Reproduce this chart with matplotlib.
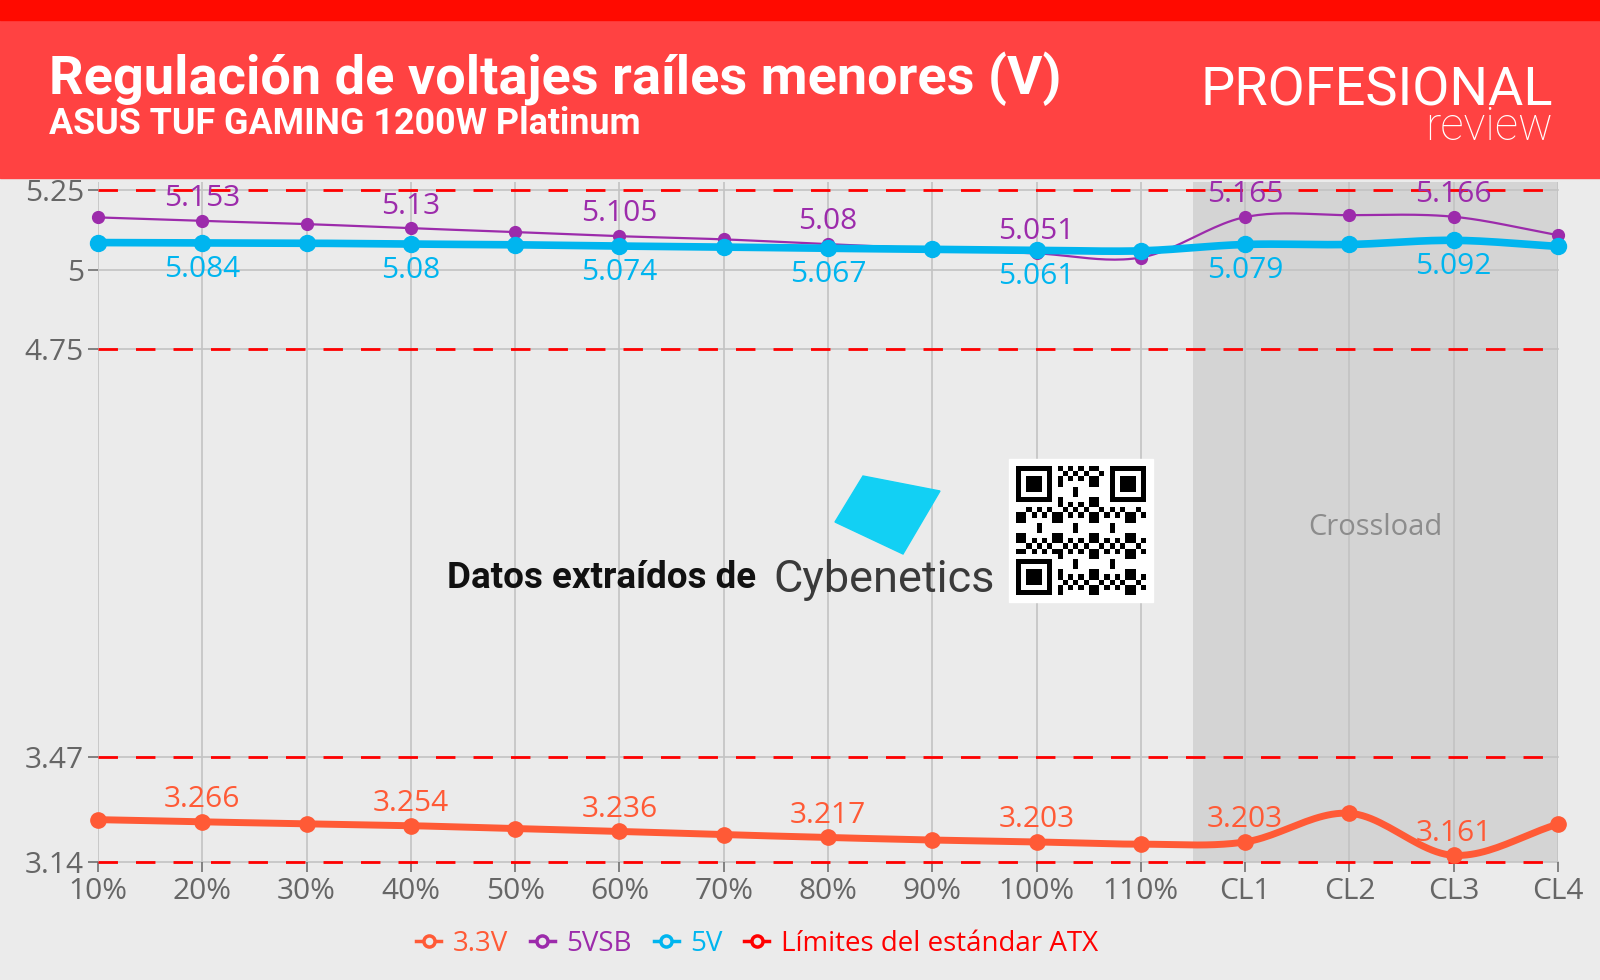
import numpy as np
import matplotlib.pyplot as plt
from matplotlib.patches import Rectangle, Polygon
from matplotlib.lines import Line2D

plt.rcParams['font.family'] = ['Open Sans', 'DejaVu Sans']

# datos
categorias = ['10%', '20%', '30%', '40%', '50%', '60%', '70%', '80%', '90%',
              '100%', '110%', 'CL1', 'CL2', 'CL3', 'CL4']
v_33 = [3.273, 3.266, 3.260, 3.254, 3.245, 3.236, 3.226, 3.217, 3.209,
        3.203, 3.196, 3.203, 3.293, 3.161, 3.259]
v_5vsb = [5.164, 5.153, 5.143, 5.13, 5.118, 5.105, 5.095, 5.08, 5.066,
          5.051, 5.038, 5.165, 5.171, 5.166, 5.108]
v_5 = [5.085, 5.084, 5.083, 5.08, 5.078, 5.074, 5.071, 5.067, 5.064,
       5.061, 5.059, 5.079, 5.079, 5.092, 5.073]
yticks = [3.14, 3.47, 4.75, 5, 5.25]
ytick_labels = ['3.14', '3.47', '4.75', '5', '5.25']
limites_atx = [5.25, 4.75, 3.47, 3.14]
etiquetas_idx = [1, 3, 5, 7, 9, 11, 13]

c33 = '#ff5a36'
c5sb = '#9c2bab'
c5 = '#00b5ef'
crojo = '#ff0000'
fondo = '#ebebeb'

W, H = 1600, 980


def fx(x):
    return x / W


def fy(y):
    return 1 - y / H


def suavizar(xs, ys, n=24):
    # curva Catmull-Rom para dibujar la linea suavizada
    xs = np.asarray(xs, float)
    ys = np.asarray(ys, float)
    px = np.concatenate([[2 * xs[0] - xs[1]], xs, [2 * xs[-1] - xs[-2]]])
    py = np.concatenate([[2 * ys[0] - ys[1]], ys, [2 * ys[-1] - ys[-2]]])
    ox, oy = [], []
    t = np.linspace(0, 1, n, endpoint=False)
    for i in range(1, len(px) - 2):
        for arr, out in ((px, ox), (py, oy)):
            p0, p1, p2, p3 = arr[i - 1], arr[i], arr[i + 1], arr[i + 2]
            out.extend(0.5 * ((2 * p1) + (-p0 + p2) * t
                              + (2 * p0 - 5 * p1 + 4 * p2 - p3) * t ** 2
                              + (-p0 + 3 * p1 - 3 * p2 + p3) * t ** 3))
    ox.append(xs[-1])
    oy.append(ys[-1])
    return np.array(ox), np.array(oy)


fig = plt.figure(figsize=(16, 9.8), dpi=100, facecolor=fondo)

# cabecera
fig.add_artist(Rectangle((0, fy(178)), 1, 178 / H, transform=fig.transFigure,
                         color='#ff4242', zorder=0))
fig.add_artist(Rectangle((0, fy(20)), 1, 20 / H, transform=fig.transFigure,
                         color='#ff0a00', zorder=0))

ax = fig.add_axes([fx(98), fy(862), (1558 - 98) / W, (862 - 182) / H])
ax.set_facecolor(fondo)
x = np.arange(len(categorias))
ax.set_xlim(0, len(categorias) - 1)
ax.set_ylim(3.14, 5.25 + 8 / 318)

ax.axvspan(10.5, 14, color='#d4d4d4', zorder=0, lw=0)
for xi in x:
    ax.axvline(xi, color='#c3c3c3', lw=1.2, zorder=1)
for yv in yticks:
    ax.axhline(yv, color='#c3c3c3', lw=1.2, zorder=1, clip_on=False)
for yv in limites_atx:
    ax.axhline(yv, color=crojo, lw=2, dashes=(7, 6.5), zorder=2, clip_on=False)

ax.text(12.25, 4.19, 'Crossload', ha='center', va='center', fontsize=21, color='#8c8c8c')

series = [
    (v_33, c33, 5, 11, 1),
    (v_5vsb, c5sb, 1.6, 8.5, 1),
    (v_5, c5, 5.5, 11.5, -1),
]
for vals, col, lw, ms, lado in series:
    sx, sy = suavizar(x, vals)
    ax.plot(sx, sy, color=col, lw=lw, zorder=4, clip_on=False, solid_capstyle='round')
    ax.plot(x, vals, 'o', color=col, ms=ms, zorder=5, clip_on=False)
    desp = 16 if lado > 0 else -19
    for i in etiquetas_idx:
        ax.annotate(f'{vals[i]:g}', (x[i], vals[i]), xytext=(0, desp),
                    textcoords='offset points', ha='center', va='center',
                    fontsize=21.5, color=col, zorder=6)

ax.set_xticks(x)
ax.set_xticklabels(categorias)
ax.set_yticks(yticks)
ax.set_yticklabels(ytick_labels)
ax.tick_params(axis='both', length=7, width=1.2, color='#707070',
               labelcolor='#666666', labelsize=21.5)
ax.tick_params(axis='x', pad=4)
ax.tick_params(axis='y', pad=3)
for s in ax.spines.values():
    s.set_visible(False)

# marca de datos: texto, logo y QR
fig.text(fx(447), fy(588), 'Datos extraídos de', fontsize=26.5, weight='bold',
         color='#111111', va='baseline', family=['Roboto', 'DejaVu Sans'])
fig.text(fx(773), fy(592), 'Cybenetics', fontsize=32.5, color='#3a3a3a',
         va='baseline', family=['Roboto', 'DejaVu Sans'])
forma = [(863, 476), (940, 491), (903, 554), (835, 522)]
fig.add_artist(Polygon([(fx(a), fy(b)) for a, b in forma], closed=True,
                       transform=fig.transFigure, color='#12d0f4', zorder=3))

fig.add_artist(Rectangle((fx(1009), fy(602)), 144 / W, 143 / H,
                         transform=fig.transFigure, color='white', zorder=3))
n = 25
qr = np.zeros((n, n))
ii, jj = np.mgrid[0:n, 0:n]
qr[((ii * ii * 3 + jj * jj * 5 + ii * jj * 7 + ii + 2 * jj) % 7) < 3] = 1
for r0, c0 in ((0, 0), (0, n - 7), (n - 7, 0)):
    qr[max(r0 - 1, 0):r0 + 8, max(c0 - 1, 0):c0 + 8] = 0
    qr[r0:r0 + 7, c0:c0 + 7] = 1
    qr[r0 + 1:r0 + 6, c0 + 1:c0 + 6] = 0
    qr[r0 + 2:r0 + 5, c0 + 2:c0 + 5] = 1
axqr = fig.add_axes([fx(1016), fy(595), 130 / W, 129 / H], zorder=4)
axqr.imshow(qr, cmap='gray_r', interpolation='nearest', aspect='auto')
axqr.axis('off')

# titulos
fig.text(fx(49), fy(94), 'Regulación de voltajes raíles menores (V)', fontsize=39,
         weight='bold', color='white', va='baseline', family=['Roboto', 'DejaVu Sans'])
fig.text(fx(49), fy(134), 'ASUS TUF GAMING 1200W Platinum', fontsize=25.8,
         weight='bold', color='white', va='baseline', family=['Roboto', 'DejaVu Sans'])
fig.text(fx(1553), fy(106), 'PROFESIONAL', fontsize=39, color='white', ha='right',
         va='baseline', weight='normal', family=['Roboto', 'DejaVu Sans'])
fig.text(fx(1553), fy(140), 'review', fontsize=33, color='white', ha='right',
         va='baseline', weight='light', family=['Roboto', 'DejaVu Sans'])

# leyenda
handles = [Line2D([], [], color=c, lw=2.5, marker='o', ms=8, mfc=fondo, mew=2.5)
           for c in (c33, c5sb, c5, crojo)]
nombres = ['3.3V', '5VSB', '5V', 'Límites del estándar ATX']
leg = fig.legend(handles, nombres, loc='center', bbox_to_anchor=(fx(757), fy(944)),
                 ncol=4, frameon=False, fontsize=20, handlelength=0.9,
                 handletextpad=0.4, columnspacing=0.8)
for t, c in zip(leg.get_texts(), (c33, c5sb, c5, crojo)):
    t.set_color(c)

fig.savefig('out.png', dpi=100, facecolor=fondo)
